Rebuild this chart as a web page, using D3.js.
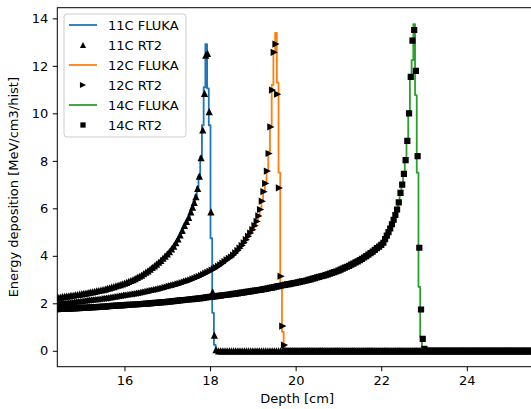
<!DOCTYPE html>
<html>
<head>
<meta charset="utf-8">
<script src="https://cdn.jsdelivr.net/npm/d3@7"></script>
<style>
  body { margin: 0; background: #fff; }
  svg { display: block; font-family: "DejaVu Sans", sans-serif; }
</style>
</head>
<body>
<script>
// ---- data (depth in cm, energy in MeV/cm3/hist) ----

// 11C RT2 markers
const c11Depth = [14.4, 14.45, 14.5, 14.55, 14.6, 14.65, 14.7, 14.75, 14.8, 14.85, 14.9, 14.95,
  15.0, 15.05, 15.1, 15.15, 15.2, 15.25, 15.3, 15.35, 15.4, 15.45, 15.5, 15.55, 15.6, 15.65, 15.7, 15.75, 15.8, 15.85, 15.9, 15.95,
  16.0, 16.05, 16.1, 16.15, 16.2, 16.25, 16.3, 16.35, 16.4, 16.45, 16.5, 16.55, 16.6, 16.65, 16.7, 16.75, 16.8, 16.85, 16.9, 16.95,
  17.0, 17.05, 17.1, 17.15, 17.2, 17.25, 17.3, 17.35, 17.4, 17.45, 17.5,
  17.55, 17.59, 17.63, 17.67, 17.71, 17.75, 17.79, 17.83, 17.87, 17.9, 17.94, 17.98, 18.02, 18.06, 18.1, 18.14];
const c11Rt2 = [2.24, 2.25, 2.26, 2.28, 2.29, 2.3, 2.31, 2.33, 2.34, 2.36, 2.37, 2.39,
  2.4, 2.42, 2.43, 2.45, 2.47, 2.48, 2.5, 2.52, 2.54, 2.56, 2.58, 2.6, 2.63, 2.65, 2.68, 2.7, 2.73, 2.76, 2.79, 2.82,
  2.85, 2.88, 2.92, 2.96, 3.0, 3.04, 3.09, 3.14, 3.19, 3.25, 3.31, 3.37, 3.44, 3.51, 3.58, 3.65, 3.73, 3.81, 3.9, 3.99,
  4.08, 4.18, 4.29, 4.41, 4.55, 4.71, 4.88, 5.07, 5.28, 5.45, 5.62,
  5.85, 6.05, 6.25, 6.49, 6.84, 7.36, 8.13, 9.3, 10.84, 12.45, 12.53, 10.07, 5.85, 2.48, 0.66, 0.05];

// 11C FLUKA histogram
const c11FlukaDepth = [14.4, 14.8, 15.2, 15.5, 15.7, 15.9, 16.0, 16.1, 16.2, 16.3, 16.4, 16.5, 16.6, 16.7, 16.8, 16.9,
  17.0, 17.05, 17.1, 17.15, 17.2, 17.25, 17.3, 17.35, 17.4, 17.45, 17.5, 17.55,
  17.59, 17.63, 17.67, 17.71, 17.75, 17.79, 17.83, 17.87, 17.91, 17.95, 17.99, 18.03, 18.07, 18.11, 18.15, 25.7];
const c11Fluka = [2.24, 2.34, 2.47, 2.58, 2.68, 2.79, 2.85, 2.92, 3.0, 3.09, 3.19, 3.31, 3.44, 3.58, 3.73, 3.9,
  4.08, 4.18, 4.29, 4.41, 4.55, 4.71, 4.88, 5.07, 5.28, 5.45, 5.62, 5.85,
  6.05, 6.3, 6.55, 6.9, 7.4, 8.2, 9.5, 11.1, 12.92, 11.05, 9.5, 4.74, 1.6, 0.25, 0, 0];

// 12C RT2 markers
const c12Depth = [14.4, 14.45, 14.5, 14.55, 14.6, 14.65, 14.7, 14.75, 14.8, 14.85, 14.9, 14.95,
  15.0, 15.05, 15.1, 15.15, 15.2, 15.25, 15.3, 15.35, 15.4, 15.45, 15.5, 15.55, 15.6, 15.65, 15.7, 15.75, 15.8, 15.85, 15.9, 15.95,
  16.0, 16.05, 16.1, 16.15, 16.2, 16.25, 16.3, 16.35, 16.4, 16.45, 16.5, 16.55, 16.6, 16.65, 16.7, 16.75, 16.8, 16.85, 16.9, 16.95,
  17.0, 17.05, 17.1, 17.15, 17.2, 17.25, 17.3, 17.35, 17.4, 17.45, 17.5, 17.55, 17.6, 17.65, 17.7, 17.75, 17.8, 17.85, 17.9, 17.95,
  18.0, 18.05, 18.1, 18.15, 18.2, 18.25, 18.3, 18.35, 18.4, 18.45, 18.5, 18.55, 18.6, 18.65, 18.7, 18.75, 18.8, 18.85, 18.9, 18.95,
  19.0, 19.05, 19.1, 19.14,
  19.18, 19.22, 19.26, 19.3, 19.34, 19.38, 19.42, 19.46, 19.5, 19.54, 19.58, 19.62, 19.66, 19.7, 19.74, 19.78];
const c12Rt2 = [1.95, 1.96, 1.97, 1.98, 1.99, 2.0, 2.0, 2.01, 2.02, 2.03, 2.04, 2.05,
  2.06, 2.07, 2.08, 2.1, 2.11, 2.12, 2.13, 2.14, 2.15, 2.16, 2.17, 2.19, 2.2, 2.21, 2.22, 2.24, 2.25, 2.27, 2.28, 2.3,
  2.31, 2.33, 2.34, 2.36, 2.37, 2.39, 2.4, 2.42, 2.43, 2.45, 2.47, 2.49, 2.51, 2.53, 2.55, 2.57, 2.59, 2.61, 2.63, 2.66,
  2.68, 2.71, 2.73, 2.76, 2.78, 2.81, 2.83, 2.86, 2.89, 2.92, 2.95, 2.98, 3.02, 3.05, 3.09, 3.13, 3.17, 3.21, 3.26, 3.3,
  3.35, 3.4, 3.45, 3.5, 3.56, 3.62, 3.69, 3.76, 3.83, 3.89, 3.95, 4.03, 4.12, 4.22, 4.32, 4.43, 4.55, 4.68, 4.82, 4.96,
  5.1, 5.27, 5.45, 5.68,
  5.95, 6.3, 6.7, 7.05, 7.57, 8.31, 9.43, 10.98, 12.57, 12.92, 10.81, 6.86, 3.14, 1.04, 0.24, 0.02];

// 12C FLUKA histogram
const c12FlukaDepth = [14.4, 14.8, 15.2, 15.6, 16.0, 16.4, 16.8, 17.0, 17.2, 17.4, 17.6, 17.7, 17.8, 17.9, 18.0, 18.1,
  18.2, 18.3, 18.4, 18.5, 18.6, 18.65, 18.7, 18.75, 18.8, 18.85, 18.9, 18.95, 19.0, 19.05, 19.1, 19.14,
  19.18, 19.22, 19.26, 19.3, 19.34, 19.38, 19.42, 19.46, 19.5, 19.54, 19.58, 19.62, 19.66, 19.7,
  19.74, 19.78, 25.7];
const c12Fluka = [1.95, 2.02, 2.11, 2.2, 2.31, 2.43, 2.59, 2.68, 2.78, 2.89, 3.02, 3.09, 3.17, 3.26, 3.35, 3.45,
  3.56, 3.69, 3.83, 3.95, 4.12, 4.22, 4.32, 4.43, 4.55, 4.68, 4.82, 4.96, 5.1, 5.27, 5.45, 5.68,
  5.95, 6.3, 6.7, 7.1, 7.6, 8.4, 9.5, 11.2, 12.6, 13.39, 11.3, 7.5, 2.84, 0.8,
  0.15, 0, 0];

// 14C RT2 markers
const c14Depth = [14.4, 14.45, 14.5, 14.55, 14.6, 14.65, 14.7, 14.75, 14.8, 14.85, 14.9, 14.95,
  15.0, 15.05, 15.1, 15.15, 15.2, 15.25, 15.3, 15.35, 15.4, 15.45, 15.5, 15.55, 15.6, 15.65, 15.7, 15.75, 15.8, 15.85, 15.9, 15.95,
  16.0, 16.05, 16.1, 16.15, 16.2, 16.25, 16.3, 16.35, 16.4, 16.45, 16.5, 16.55, 16.6, 16.65, 16.7, 16.75, 16.8, 16.85, 16.9, 16.95,
  17.0, 17.05, 17.1, 17.15, 17.2, 17.25, 17.3, 17.35, 17.4, 17.45, 17.5, 17.55, 17.6, 17.65, 17.7, 17.75, 17.8, 17.85, 17.9, 17.95,
  18.0, 18.05, 18.1, 18.15, 18.2, 18.25, 18.3, 18.35, 18.4, 18.45, 18.5, 18.55, 18.6, 18.65, 18.7, 18.75, 18.8, 18.85, 18.9, 18.95,
  19.0, 19.05, 19.1, 19.15, 19.2, 19.25, 19.3, 19.35, 19.4, 19.45, 19.5, 19.55, 19.6, 19.65, 19.7, 19.75, 19.8, 19.85, 19.9, 19.95,
  20.0, 20.05, 20.1, 20.15, 20.2, 20.25, 20.3, 20.35, 20.4, 20.45, 20.5, 20.55, 20.6, 20.65, 20.7, 20.75, 20.8, 20.85, 20.9, 20.95,
  21.0, 21.05, 21.1, 21.15, 21.2, 21.25, 21.3, 21.35, 21.4, 21.45, 21.5, 21.55, 21.6, 21.65, 21.7, 21.75, 21.8, 21.85, 21.9, 21.95,
  22.0, 22.05, 22.09, 22.13, 22.17, 22.21, 22.25, 22.29, 22.33, 22.37, 22.41, 22.45, 22.49, 22.53, 22.57, 22.61, 22.65,
  22.69, 22.73, 22.77, 22.81, 22.85, 22.89, 22.93, 22.97, 23.01];
const c14Rt2 = [1.75, 1.75, 1.76, 1.76, 1.77, 1.77, 1.78, 1.78, 1.79, 1.79, 1.8, 1.8,
  1.81, 1.81, 1.82, 1.82, 1.83, 1.83, 1.84, 1.84, 1.85, 1.85, 1.86, 1.86, 1.87, 1.88, 1.89, 1.89, 1.9, 1.9, 1.91, 1.91,
  1.92, 1.93, 1.94, 1.94, 1.95, 1.95, 1.96, 1.96, 1.97, 1.98, 1.99, 1.99, 2.0, 2.01, 2.02, 2.02, 2.03, 2.04, 2.05, 2.05,
  2.06, 2.07, 2.08, 2.09, 2.1, 2.11, 2.12, 2.13, 2.14, 2.15, 2.16, 2.17, 2.18, 2.19, 2.2, 2.21, 2.22, 2.23, 2.25, 2.26,
  2.27, 2.28, 2.29, 2.3, 2.31, 2.32, 2.34, 2.35, 2.36, 2.37, 2.39, 2.4, 2.41, 2.42, 2.44, 2.45, 2.46, 2.48, 2.49, 2.5,
  2.52, 2.53, 2.55, 2.56, 2.58, 2.6, 2.61, 2.63, 2.65, 2.66, 2.68, 2.7, 2.72, 2.74, 2.76, 2.78, 2.8, 2.81, 2.83, 2.85,
  2.86, 2.88, 2.9, 2.92, 2.94, 2.96, 2.99, 3.01, 3.04, 3.06, 3.09, 3.11, 3.14, 3.16, 3.19, 3.22, 3.25, 3.28, 3.31, 3.34,
  3.38, 3.42, 3.46, 3.5, 3.54, 3.58, 3.63, 3.67, 3.72, 3.77, 3.82, 3.87, 3.93, 3.99, 4.05, 4.11, 4.18, 4.25, 4.32, 4.39,
  4.46, 4.55, 4.7, 4.85, 5.0, 5.15, 5.33, 5.52, 5.72, 5.95, 6.25, 6.65, 7.0, 7.45, 8.03, 8.84, 10.0,
  11.54, 13.06, 13.51, 11.79, 8.2, 4.34, 1.74, 0.5, 0.08];

// 14C FLUKA histogram
const c14FlukaDepth = [14.4, 15.0, 15.6, 16.2, 16.8, 17.4, 18.0, 18.6, 19.2, 19.8, 20.2, 20.5, 20.8, 21.0, 21.1, 21.2,
  21.3, 21.4, 21.5, 21.6, 21.7, 21.8, 21.9, 22.0, 22.05, 22.09, 22.13, 22.17, 22.21, 22.25, 22.29, 22.33,
  22.37, 22.41, 22.45, 22.49, 22.53, 22.57, 22.61, 22.65, 22.69, 22.73, 22.77, 22.81, 22.85, 22.89,
  22.93, 22.97, 23.01, 25.7];
const c14Fluka = [1.75, 1.81, 1.87, 1.95, 2.03, 2.14, 2.27, 2.41, 2.58, 2.8, 2.94, 3.09, 3.25, 3.38, 3.46, 3.54,
  3.63, 3.72, 3.82, 3.93, 4.05, 4.18, 4.32, 4.46, 4.55, 4.7, 4.85, 5.0, 5.15, 5.33, 5.52, 5.72,
  5.95, 6.25, 6.65, 7.0, 7.45, 8.1, 8.9, 10.1, 11.6, 12.24, 13.76, 10.77, 7.5, 2.69,
  0.59, 0.1, 0, 0];

// depths past the peaks where every RT2 series reads 0
const tailDepth = [18.15, 18.2, 18.25, 18.3, 18.35, 18.4, 18.45, 18.5, 18.55, 18.6, 18.65, 18.7, 18.75, 18.8, 18.85, 18.9, 18.95,
  19.0, 19.05, 19.1, 19.15, 19.2, 19.25, 19.3, 19.35, 19.4, 19.45, 19.5, 19.55, 19.6, 19.65, 19.7, 19.75, 19.8, 19.85, 19.9, 19.95,
  20.0, 20.05, 20.1, 20.15, 20.2, 20.25, 20.3, 20.35, 20.4, 20.45, 20.5, 20.55, 20.6, 20.65, 20.7, 20.75, 20.8, 20.85, 20.9, 20.95,
  21.0, 21.05, 21.1, 21.15, 21.2, 21.25, 21.3, 21.35, 21.4, 21.45, 21.5, 21.55, 21.6, 21.65, 21.7, 21.75, 21.8, 21.85, 21.9, 21.95,
  22.0, 22.05, 22.1, 22.15, 22.2, 22.25, 22.3, 22.35, 22.4, 22.45, 22.5, 22.55, 22.6, 22.65, 22.7, 22.75, 22.8, 22.85, 22.9, 22.95,
  23.0, 23.05, 23.1, 23.15, 23.2, 23.25, 23.3, 23.35, 23.4, 23.45, 23.5, 23.55, 23.6, 23.65, 23.7, 23.75, 23.8, 23.85, 23.9, 23.95,
  24.0, 24.05, 24.1, 24.15, 24.2, 24.25, 24.3, 24.35, 24.4, 24.45, 24.5, 24.55, 24.6, 24.65, 24.7, 24.75, 24.8, 24.85, 24.9, 24.95,
  25.0, 25.05, 25.1, 25.15, 25.2, 25.25, 25.3, 25.35, 25.4, 25.45, 25.5, 25.55, 25.6, 25.65, 25.7];

const xTicks = [16, 18, 20, 22, 24];
const yTicks = [0, 2, 4, 6, 8, 10, 12, 14];

// ---- layout ----
const w = 531;
const h = 409;
const plot = { left: 57.3, top: 7.7, right: 537, bottom: 366.7 };
const fontSize = 13;

const svg = d3.select("body").append("svg").attr("width", w).attr("height", h);

const xScale = d3.scaleLinear().domain([14.43, 25.64]).range([plot.left, plot.right]);
const yScale = d3.scaleLinear().domain([-0.67, 14.45]).range([plot.bottom, plot.top]);

// marker shapes
const triUp = "M0,-3.6L3.6,3.6L-3.6,3.6Z";
const triRight = "M3.6,0L-3.6,-3.6L-3.6,3.6Z";
const square = "M-3.1,-3.1h6.2v6.2h-6.2Z";

const series = [
  { label: "11C", color: "#1f77b4", marker: triUp, fd: c11FlukaDepth, fv: c11Fluka, rd: c11Depth, rv: c11Rt2 },
  { label: "12C", color: "#ff7f0e", marker: triRight, fd: c12FlukaDepth, fv: c12Fluka, rd: c12Depth, rv: c12Rt2 },
  { label: "14C", color: "#2ca02c", marker: square, fd: c14FlukaDepth, fv: c14Fluka, rd: c14Depth, rv: c14Rt2 },
];

svg.append("clipPath").attr("id", "clip")
  .append("rect")
  .attr("x", plot.left).attr("y", plot.top)
  .attr("width", plot.right - plot.left).attr("height", plot.bottom - plot.top);

const plotArea = svg.append("g").attr("clip-path", "url(#clip)");

const line = d3.line()
  .x((d) => xScale(d[0]))
  .y((d) => yScale(d[1]))
  .curve(d3.curveStep);

// draw in legend order: FLUKA line then RT2 markers, per isotope
series.forEach((s) => {
  const flukaPts = s.fd.map((d, i) => [d, s.fv[i]]);
  plotArea.append("path")
    .datum(flukaPts)
    .attr("fill", "none")
    .attr("stroke", s.color)
    .attr("stroke-width", 1.8)
    .attr("stroke-linejoin", "round")
    .attr("d", line);

  const last = s.rd[s.rd.length - 1];
  const rtPts = s.rd.map((d, i) => [d, s.rv[i]])
    .concat(tailDepth.filter((d) => d > last + 0.02).map((d) => [d, 0]));

  plotArea.append("g")
    .selectAll("path")
    .data(rtPts)
    .join("path")
    .attr("transform", (d) => `translate(${xScale(d[0])},${yScale(d[1])})`)
    .attr("d", s.marker)
    .attr("fill", "#000");
});

// axes
const xAxis = d3.axisBottom(xScale).tickValues(xTicks).tickSize(4.5).tickPadding(4.5).tickFormat(d3.format("d"));
const yAxis = d3.axisLeft(yScale).tickValues(yTicks).tickSize(4.5).tickPadding(4.5).tickFormat(d3.format("d"));

const gx = svg.append("g")
  .attr("transform", `translate(0, ${plot.bottom})`)
  .call(xAxis);
const gy = svg.append("g")
  .attr("transform", `translate(${plot.left}, 0)`)
  .call(yAxis);

[gx, gy].forEach((g) => {
  g.select(".domain").remove();
  g.selectAll("line").attr("stroke", "#000").attr("stroke-width", 1);
  g.selectAll("text")
    .attr("fill", "#000")
    .style("font-family", "DejaVu Sans")
    .style("font-size", `${fontSize}px`);
});

// frame
svg.append("rect")
  .attr("x", plot.left).attr("y", plot.top)
  .attr("width", plot.right - plot.left).attr("height", plot.bottom - plot.top)
  .attr("fill", "none")
  .attr("stroke", "#000")
  .attr("stroke-width", 1);

// axis labels
svg.append("text")
  .attr("x", (plot.left + plot.right) / 2)
  .attr("y", 403)
  .attr("text-anchor", "middle")
  .style("font-size", `${fontSize}px`)
  .text("Depth [cm]");

svg.append("text")
  .attr("transform", `translate(18, ${(plot.top + plot.bottom) / 2}) rotate(-90)`)
  .attr("text-anchor", "middle")
  .style("font-size", `${fontSize}px`)
  .text("Energy deposition [MeV/cm3/hist]");

// legend
const legend = svg.append("g").attr("transform", "translate(64, 14)");

legend.append("rect")
  .attr("width", 122)
  .attr("height", 123)
  .attr("rx", 3)
  .attr("fill", "#fff")
  .attr("fill-opacity", 0.8)
  .attr("stroke", "#ccc")
  .attr("stroke-width", 1);

const entries = [];
series.forEach((s) => {
  entries.push({ text: `${s.label} FLUKA`, color: s.color, marker: null });
  entries.push({ text: `${s.label} RT2`, color: null, marker: s.marker });
});

entries.forEach((e, i) => {
  const y = 11 + i * 20;
  if (e.color) {
    legend.append("line")
      .attr("x1", 5).attr("x2", 33)
      .attr("y1", y).attr("y2", y)
      .attr("stroke", e.color)
      .attr("stroke-width", 1.8);
  } else {
    legend.append("path")
      .attr("transform", `translate(19, ${y}) scale(0.85)`)
      .attr("d", e.marker)
      .attr("fill", "#000");
  }
  legend.append("text")
    .attr("x", 44)
    .attr("y", y)
    .attr("dy", "0.36em")
    .style("font-size", `${fontSize}px`)
    .text(e.text);
});
</script>
</body>
</html>
